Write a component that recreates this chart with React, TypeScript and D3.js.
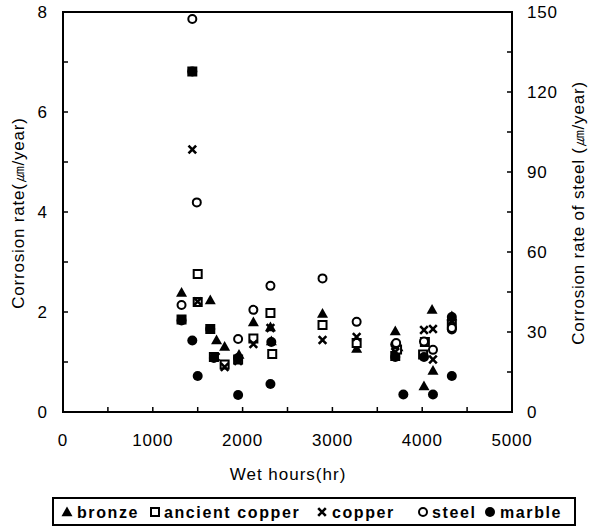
import React from "react";
import * as d3 from "d3";

// ---- data (left axis: µm/year; steel on right axis: µm/year of steel) ----
const bronzeHours = [1320, 1640, 1710, 1800, 1960, 2120, 2310, 2320, 2890, 3270, 3700, 3730, 4020, 4110, 4120, 4330];
const bronzeRate = [2.39, 2.24, 1.44, 1.31, 1.15, 1.80, 1.70, 1.42, 1.97, 1.27, 1.62, 1.30, 0.52, 2.05, 0.83, 1.92];

const ancientHours = [1320, 1440, 1500, 1500, 1640, 1680, 1800, 1950, 2120, 2310, 2330, 2890, 3270, 3700, 3720, 4010, 4030, 4330];
const ancientRate = [1.85, 6.81, 2.76, 2.20, 1.66, 1.10, 0.95, 1.05, 1.47, 1.98, 1.16, 1.74, 1.38, 1.12, 1.25, 1.15, 1.40, 1.75];

const copperHours = [1320, 1440, 1500, 1700, 1800, 1950, 2120, 2310, 2890, 3270, 3700, 4020, 4120, 4120, 4330];
const copperRate = [1.85, 5.25, 2.21, 1.10, 0.90, 1.02, 1.36, 1.68, 1.44, 1.50, 1.20, 1.64, 1.66, 1.05, 1.82];

const steelHours = [1320, 1440, 1490, 1950, 2120, 2310, 2890, 3270, 3710, 4020, 4120, 4330];
const steelRate = [40.1, 147.4, 78.6, 27.4, 38.3, 47.3, 50.1, 33.8, 25.9, 26.4, 23.3, 31.5];

const marbleHours = [1320, 1440, 1440, 1500, 1640, 1680, 1950, 1950, 2320, 2310, 3700, 3700, 3790, 4020, 4120, 4330, 4330, 4330];
const marbleRate = [1.83, 6.81, 1.43, 0.72, 1.66, 1.08, 1.08, 0.34, 1.40, 0.56, 1.35, 1.10, 0.35, 1.10, 0.35, 1.90, 1.65, 0.72];

const xTicks = [0, 1000, 2000, 3000, 4000, 5000];
const yLeftTicks = [0, 2, 4, 6, 8];
const yRightTicks = [0, 30, 60, 90, 120, 150];

const legendLabels = ["bronze", "ancient copper", "copper", "steel", "marble"];

const FONT = "'Liberation Sans', Arial, sans-serif";

const left = 63, right = 512, top = 12, bottom = 412;

function Marker({ kind, x, y }: { kind: string; x: number; y: number }) {
  if (kind === "bronze") {
    const s = 5.5;
    return <path d={`M${x},${y - s}L${x + s},${y + s * 0.75}L${x - s},${y + s * 0.75}Z`} fill="#000" />;
  }
  if (kind === "ancient copper") {
    return <rect x={x - 4} y={y - 4} width={8} height={8} fill="#fff" stroke="#000" strokeWidth={2} />;
  }
  if (kind === "copper") {
    const s = 3.8;
    return <path d={`M${x - s},${y - s}L${x + s},${y + s}M${x - s},${y + s}L${x + s},${y - s}`} stroke="#000" strokeWidth={2.6} fill="none" />;
  }
  if (kind === "steel") {
    return <circle cx={x} cy={y} r={4} fill="#fff" stroke="#000" strokeWidth={2} />;
  }
  return <circle cx={x} cy={y} r={5} fill="#000" />;
}

export default function App() {
  const x = d3.scaleLinear().domain([0, 5000]).range([left, right]);
  const yL = d3.scaleLinear().domain([0, 8]).range([bottom, top]);
  const yR = d3.scaleLinear().domain([0, 150]).range([bottom, top]);

  const series = [
    { kind: "bronze", hrs: bronzeHours, val: bronzeRate, scale: yL },
    { kind: "ancient copper", hrs: ancientHours, val: ancientRate, scale: yL },
    { kind: "marble", hrs: marbleHours, val: marbleRate, scale: yL },
    { kind: "copper", hrs: copperHours, val: copperRate, scale: yL },
    { kind: "steel", hrs: steelHours, val: steelRate, scale: yR },
  ];

  const xMinor = d3.range(0, 5001, 500);
  const yLMinor = d3.range(0, 8.01, 1);
  const yRMinor = d3.range(0, 151, 15);

  const legendX = [67, 155, 322, 423, 490];
  const legendTextX = [77, 164, 332, 432, 500];
  const legendKinds = ["bronze", "ancient copper", "copper", "steel", "marble"];

  return (
    <svg width={591} height={532} style={{ position: "absolute", left: 0, top: 0, background: "#fff" }} fontFamily={FONT}>
      <rect width={591} height={532} fill="#fff" />
      {/* ticks */}
      {xMinor.map((t) => (
        <line key={"xt" + t} x1={x(t)} x2={x(t)} y1={bottom} y2={bottom - 5} stroke="#000" strokeWidth={1.5} />
      ))}
      {yLMinor.map((t) => (
        <line key={"ylt" + t} x1={left} x2={left + 5} y1={yL(t)} y2={yL(t)} stroke="#000" strokeWidth={1.5} />
      ))}
      {yRMinor.map((t) => (
        <line key={"yrt" + t} x1={right} x2={right - 5} y1={yR(t)} y2={yR(t)} stroke="#000" strokeWidth={1.5} />
      ))}
      {/* frame */}
      <rect x={left} y={top} width={right - left} height={bottom - top} fill="none" stroke="#000" strokeWidth={2} />

      {/* tick labels */}
      {xTicks.map((t) => (
        <text key={"xl" + t} x={x(t)} y={446} textAnchor="middle" fontSize={17} letterSpacing={0.8} fill="#000">{t}</text>
      ))}
      {yLeftTicks.map((t) => (
        <text key={"yl" + t} x={47} y={yL(t) + 6} textAnchor="end" fontSize={17} fill="#000">{t}</text>
      ))}
      {yRightTicks.map((t) => (
        <text key={"yr" + t} x={527} y={yR(t) + 6} textAnchor="start" fontSize={17} letterSpacing={0.8} fill="#000">{t}</text>
      ))}

      {/* axis titles */}
      <text x={288} y={480} textAnchor="middle" fontSize={17} letterSpacing={1} fill="#000">Wet hours(hr)</text>
      <text transform={`translate(24,213) rotate(-90)`} textAnchor="middle" fontSize={17} letterSpacing={0.8} fill="#000">Corrosion rate(㎛/year)</text>
      <text transform={`translate(584,213) rotate(-90)`} textAnchor="middle" fontSize={17} letterSpacing={0.8} fill="#000">Corrosion rate of steel (㎛/year)</text>

      {/* data */}
      {series.map((s) => (
        <g key={s.kind}>
          {s.hrs.map((h, i) => (
            <Marker key={i} kind={s.kind} x={x(h)} y={s.scale(s.val[i])} />
          ))}
        </g>
      ))}

      {/* legend */}
      <rect x={53} y={498} width={522} height={27} fill="#fff" stroke="#000" strokeWidth={2} />
      {legendKinds.map((k, i) => (
        <g key={"lg" + k}>
          <Marker kind={k} x={legendX[i]} y={512} />
          <text x={legendTextX[i]} y={518} fontSize={16} fontWeight="bold" letterSpacing={1.6} fill="#000">{legendLabels[i]}</text>
        </g>
      ))}
    </svg>
  );
}
